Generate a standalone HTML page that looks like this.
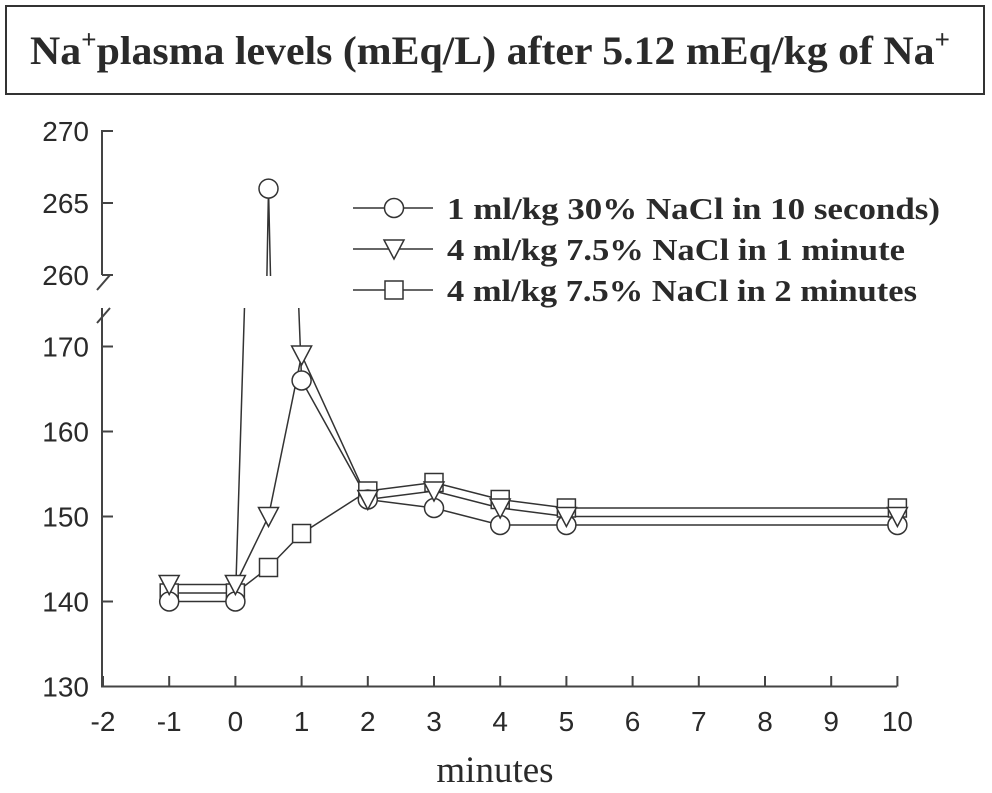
<!DOCTYPE html>
<html><head><meta charset="utf-8"><style>
html,body{margin:0;background:#fff;overflow:hidden;width:992px;height:793px;}
svg{display:block;}
svg text{fill:#2a2a2a;}
</style></head><body>
<svg width="992" height="793" xmlns="http://www.w3.org/2000/svg">
<rect x="6" y="6" width="978" height="88" fill="#fff" stroke="#333" stroke-width="2"/>
<text x="30" y="64" font-family="Liberation Serif, serif" font-weight="bold" font-size="40" textLength="920" lengthAdjust="spacingAndGlyphs">Na<tspan dy="-16" font-size="26">+</tspan><tspan dy="16">plasma levels (mEq/L) after 5.12 mEq/kg of Na</tspan><tspan dy="-16" font-size="26">+</tspan></text>
<defs>
<clipPath id="clipLow"><rect x="0" y="308" width="992" height="400"/></clipPath>
<clipPath id="clipUp"><rect x="0" y="100" width="992" height="176"/></clipPath>
</defs>
<g id="axes" stroke="#444" stroke-width="2" fill="none"></g>
<g id="lines" stroke="#333" stroke-width="1.5" fill="none"></g>
<g id="marks" stroke="#333" stroke-width="1.5" fill="#fff"></g>
<g id="labels" font-family="Liberation Sans, sans-serif" font-size="28"></g>
<text x="495" y="782" text-anchor="middle" font-family="Liberation Serif, serif" font-size="37">minutes</text>
<g id="legend" font-family="Liberation Serif, serif" font-weight="bold" font-size="31"></g>
</svg>
<script>
const xs=[-1,0,0.5,1,2,3,4,5,10];
const circleVals=[140,140,266,166,152,151,149,149,149];
const triVals=[142,142,150,169,152,153,151,150,150];
const sqVals=[141,141,144,148,153,154,152,151,151];
const xTicks=[-2,-1,0,1,2,3,4,5,6,7,8,9,10];
const yLowTicks=[130,140,150,160,170];
const yUpTicks=[260,265,270];
const legendLabels=["1 ml/kg 30% NaCl in 10 seconds)","4 ml/kg 7.5% NaCl in 1 minute","4 ml/kg 7.5% NaCl in 2 minutes"];
const legendWidths=[493,458,470];
const NS="http://www.w3.org/2000/svg";
const X=v=>103+(v+2)*66.2;
const YL=v=>686.5-(v-130)*8.5;
const YU=v=>131+(270-v)*14.4;
const Y=v=>v>=255?YU(v):YL(v);
function mk(tag,attrs,parent){const e=document.createElementNS(NS,tag);for(const k in attrs)e.setAttribute(k,attrs[k]);parent.appendChild(e);return e;}
const ax=document.getElementById('axes'),lab=document.getElementById('labels');
let e;
e=mk('path',{d:`M113 131 H102 V275 M97 290 L110 275 M97 323 L110 308 M102 308 V686.5 H897`},ax);

xTicks.forEach(t=>{
 e=mk('line',{x1:X(t),x2:X(t),y1:686.5,y2:676},ax);
 
 e=mk('text',{x:X(t),y:731,'text-anchor':'middle'},lab);e.textContent=t;
 
});
yLowTicks.concat(yUpTicks).forEach(t=>{
 const y=Y(t);
 e=mk('line',{x1:102,x2:113,y1:y,y2:y},ax);
 
 e=mk('text',{x:89,y:y+10,'text-anchor':'end'},lab);e.textContent=t;
 
});
const lg=document.getElementById('lines'),mg=document.getElementById('marks');
function marker(type,cx,cy,g){
 if(type==='c')return mk('circle',{cx:cx,cy:cy,r:9.5},g);
 if(type==='t')return mk('path',{d:`M${cx-10} ${cy-9} H${cx+10} L${cx} ${cy+10} Z`},g);
 return mk('rect',{x:cx-9,y:cy-9,width:18,height:18},g);
}
function series(vals,type,name){
 let d='';vals.forEach((v,i)=>{d+=(i?'L':'M')+X(xs[i])+' '+YL(v)+' ';});
 e=mk('path',{d:d,'clip-path':'url(#clipLow)'},lg);
 
 let du='';vals.forEach((v,i)=>{du+=(i?'L':'M')+X(xs[i])+' '+YU(v)+' ';});
 e=mk('path',{d:du,'clip-path':'url(#clipUp)'},lg);
 
 vals.forEach((v,i)=>{
  e=marker(type,X(xs[i]),Y(v),mg);
  
 });
}
series(sqVals,'s','series-2min');
series(circleVals,'c','series-10s');
series(triVals,'t','series-1min');
const leg=document.getElementById('legend');
const types=['c','t','s'],names=['legend-10s','legend-1min','legend-2min'];
legendLabels.forEach((l,i)=>{
 const y=208+i*41;
 e=mk('line',{x1:353,x2:433,y1:y,y2:y,stroke:'#333','stroke-width':1.5},leg);
 
 e=marker(types[i],394,y,leg);e.setAttribute('stroke','#333');e.setAttribute('stroke-width','1.5');e.setAttribute('fill','#fff');
 
 e=mk('text',{x:447,y:y+11,textLength:legendWidths[i],lengthAdjust:'spacingAndGlyphs'},leg);e.textContent=l;
 
});
</script>
</body></html>
